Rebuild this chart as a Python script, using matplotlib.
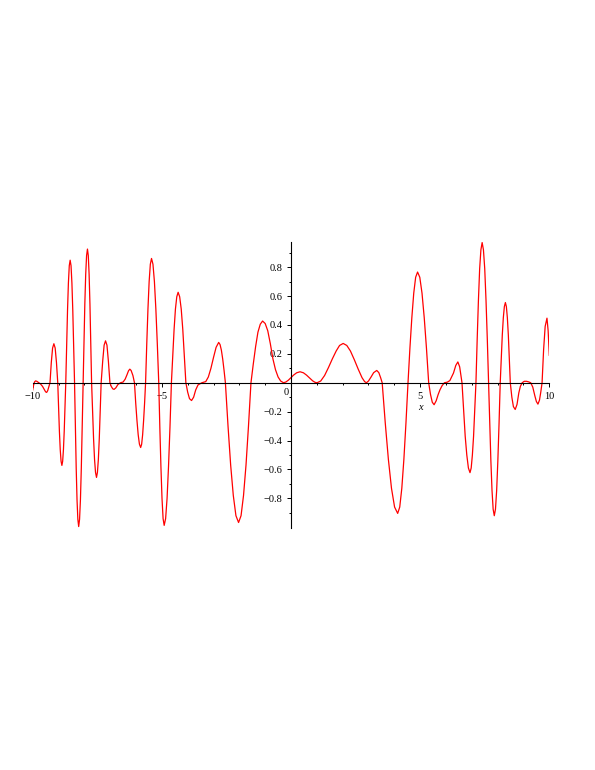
import matplotlib
matplotlib.use("Agg")
import matplotlib.pyplot as plt
from matplotlib.ticker import FixedLocator, NullFormatter

# ---- data ----
x_vals = [
    -10.00, -9.97, -9.93, -9.89, -9.84, -9.78, -9.70, -9.62, -9.55, -9.50, -9.46, -9.42, -9.38, -9.33,
    -9.28, -9.23, -9.18, -9.13, -9.08, -9.03,
    -8.998, -8.966, -8.934, -8.902, -8.87, -8.84, -8.81, -8.78, -8.75, -8.72,
    -8.686, -8.652, -8.618, -8.584, -8.55, -8.516, -8.482, -8.448, -8.414, -8.38,
    -8.348, -8.316, -8.284, -8.252, -8.22, -8.186, -8.152, -8.118, -8.084, -8.05,
    -8.016, -7.982, -7.948, -7.914, -7.88, -7.848, -7.816, -7.784, -7.752, -7.72,
    -7.682, -7.644, -7.606, -7.568, -7.53, -7.494, -7.458, -7.422, -7.386, -7.35,
    -7.29, -7.235, -7.18, -7.125, -7.07, -7.01,
    -6.96, -6.90, -6.85, -6.78, -6.70, -6.60, -6.50, -6.42, -6.35, -6.29, -6.24, -6.19, -6.12, -6.06,
    -6.012, -5.964, -5.916, -5.868, -5.82, -5.782, -5.744, -5.706, -5.668, -5.63,
    -5.584, -5.538, -5.492, -5.446, -5.40, -5.344, -5.288, -5.232, -5.176, -5.12,
    -5.078, -5.036, -4.994, -4.952, -4.91, -4.854, -4.798, -4.742, -4.686, -4.63,
    -4.578, -4.526, -4.474, -4.422, -4.37, -4.31, -4.25, -4.19, -4.13, -4.07,
    -4.00, -3.93, -3.85, -3.77, -3.69, -3.60, -3.45, -3.30,
    -3.20, -3.10, -3.00, -2.90, -2.80, -2.748, -2.696, -2.644, -2.592, -2.54,
    -2.438, -2.336, -2.234, -2.132, -2.03, -1.934, -1.838, -1.742, -1.646, -1.55,
    -1.46, -1.37, -1.28, -1.19, -1.10, -1.00, -0.90, -0.80, -0.70, -0.60, -0.50, -0.40, -0.29,
    -0.20, -0.10, 0.00, 0.10, 0.22, 0.35, 0.48, 0.60, 0.72, 0.84, 0.93, 1.01,
    1.15, 1.30, 1.45, 1.60, 1.75, 1.88, 2.02, 2.16, 2.30, 2.45, 2.60, 2.75, 2.85, 2.92,
    3.00, 3.10, 3.20, 3.32, 3.40, 3.47, 3.53,
    3.65, 3.77, 3.89, 4.01, 4.13, 4.21, 4.29, 4.37, 4.45, 4.53,
    4.604, 4.678, 4.752, 4.826, 4.90, 4.986, 5.072, 5.158, 5.244, 5.33,
    5.40, 5.47, 5.54, 5.62, 5.70, 5.77, 5.85, 5.94, 6.05, 6.15, 6.29, 6.38, 6.46, 6.53, 6.62,
    6.682, 6.744, 6.806, 6.868, 6.93, 6.976, 7.022, 7.068, 7.114, 7.16,
    7.208, 7.256, 7.304, 7.352, 7.40, 7.45, 7.50, 7.55, 7.60, 7.65,
    7.694, 7.738, 7.782, 7.826, 7.87, 7.916, 7.962, 8.008, 8.054, 8.10,
    8.14, 8.18, 8.22, 8.26, 8.30, 8.338, 8.376, 8.414, 8.452, 8.49,
    8.55, 8.61, 8.68, 8.75, 8.82, 8.88, 8.95, 9.03, 9.12, 9.20, 9.28, 9.36, 9.44, 9.50, 9.56, 9.62, 9.67, 9.72,
    9.78, 9.84, 9.91, 9.955, 10.00,
]
y_vals = [
    -0.050, -0.020, 0.005, 0.013, 0.010, 0.002, -0.008, -0.025, -0.048, -0.063, -0.067, -0.055, -0.030, 0.000,
    0.140, 0.240, 0.270, 0.240, 0.140, 0.000,
    -0.177, -0.337, -0.463, -0.543, -0.572, -0.543, -0.463, -0.337, -0.177, 0.000,
    0.260, 0.500, 0.690, 0.810, 0.848, 0.810, 0.690, 0.500, 0.260, 0.000,
    -0.310, -0.590, -0.810, -0.945, -0.995, -0.945, -0.810, -0.590, -0.310, 0.000,
    0.285, 0.545, 0.750, 0.880, 0.925, 0.880, 0.750, 0.545, 0.285, 0.000,
    -0.200, -0.385, -0.530, -0.620, -0.655, -0.620, -0.530, -0.385, -0.200, 0.000,
    0.150, 0.260, 0.290, 0.260, 0.150, 0.000,
    -0.025, -0.042, -0.046, -0.035, -0.012, 0.000, 0.005, 0.025, 0.055, 0.083, 0.094, 0.085, 0.050, 0.000,
    -0.140, -0.260, -0.360, -0.425, -0.448, -0.425, -0.360, -0.260, -0.140, 0.000,
    0.270, 0.510, 0.700, 0.820, 0.860, 0.820, 0.700, 0.510, 0.270, 0.000,
    -0.310, -0.580, -0.800, -0.940, -0.987, -0.940, -0.800, -0.580, -0.310, 0.000,
    0.190, 0.370, 0.510, 0.595, 0.626, 0.595, 0.510, 0.370, 0.190, 0.000,
    -0.065, -0.110, -0.123, -0.100, -0.050, -0.015, 0.000, 0.008,
    0.040, 0.100, 0.175, 0.245, 0.279, 0.265, 0.226, 0.164, 0.086, 0.000,
    -0.300, -0.570, -0.780, -0.920, -0.967, -0.920, -0.780, -0.570, -0.300, 0.000,
    0.130, 0.250, 0.350, 0.405, 0.427, 0.410, 0.360, 0.270, 0.165, 0.090, 0.040, 0.012, 0.000,
    0.005, 0.018, 0.035, 0.053, 0.069, 0.076, 0.069, 0.053, 0.033, 0.013, 0.003, 0.000,
    0.012, 0.050, 0.105, 0.165, 0.220, 0.258, 0.272, 0.258, 0.220, 0.160, 0.095, 0.035, 0.008, 0.000,
    0.012, 0.040, 0.070, 0.085, 0.070, 0.035, 0.000,
    -0.280, -0.530, -0.730, -0.860, -0.904, -0.860, -0.730, -0.530, -0.280, 0.000,
    0.240, 0.450, 0.620, 0.730, 0.766, 0.730, 0.620, 0.450, 0.240, 0.000,
    -0.080, -0.135, -0.152, -0.125, -0.080, -0.048, -0.020, 0.000, 0.004, 0.015, 0.067, 0.120, 0.144, 0.110, 0.000,
    -0.190, -0.370, -0.500, -0.590, -0.622, -0.590, -0.500, -0.370, -0.190, 0.000,
    0.300, 0.570, 0.790, 0.920, 0.970, 0.920, 0.790, 0.570, 0.300, 0.000,
    -0.285, -0.540, -0.745, -0.875, -0.920, -0.875, -0.745, -0.540, -0.285, 0.000,
    0.170, 0.330, 0.450, 0.527, 0.555, 0.527, 0.450, 0.330, 0.170, 0.000,
    -0.100, -0.165, -0.185, -0.150, -0.070, -0.025, 0.000, 0.010, 0.010, 0.006, 0.000, -0.030, -0.090, -0.130, -0.148, -0.120, -0.065, 0.000,
    0.230, 0.390, 0.447, 0.360, 0.190,
]

x_major = [-10, -5, 5, 10]
x_major_labels = ["\u221210", "\u22125", "5", "10"]
x_minor = [-9, -8, -7, -6, -4, -3, -2, -1, 1, 2, 3, 4, 6, 7, 8, 9]
y_major = [-0.8, -0.6, -0.4, -0.2, 0.2, 0.4, 0.6, 0.8]
y_major_labels = ["\u22120.8", "\u22120.6", "\u22120.4", "\u22120.2", "0.2", "0.4", "0.6", "0.8"]
y_minor = [-0.9, -0.7, -0.5, -0.3, -0.1, 0.1, 0.3, 0.5, 0.7, 0.9]
x_label = "x"

# ---- figure ----
W, H = 595, 770
fig = plt.figure(figsize=(W / 100, H / 100), dpi=100)
left_px, right_px = 32.7, 549.3
top_px, bottom_px = 241.7, 527.7
ax = fig.add_axes([left_px / W, 1 - bottom_px / H,
                   (right_px - left_px) / W, (bottom_px - top_px) / H])

ax.plot(x_vals, y_vals, color="#ff0000", lw=0.9, solid_joinstyle="round")

ax.set_xlim(-10, 10)
ax.set_ylim(-1.003, 0.976)

for s in ["top", "right"]:
    ax.spines[s].set_visible(False)
ax.spines["left"].set_position(("data", 0))
ax.spines["bottom"].set_position(("data", 0))
for s in ["left", "bottom"]:
    ax.spines[s].set_linewidth(0.8)
    ax.spines[s].set_color("black")

font = dict(family="Liberation Serif", size=7.5)

ax.xaxis.set_major_locator(FixedLocator(x_major))
ax.set_xticklabels(x_major_labels, **font)
ax.xaxis.set_minor_locator(FixedLocator(x_minor))
ax.yaxis.set_major_locator(FixedLocator(y_major))
ax.set_yticklabels(y_major_labels, **font)
ax.yaxis.set_minor_locator(FixedLocator(y_minor))
ax.yaxis.set_minor_formatter(NullFormatter())
ax.xaxis.set_minor_formatter(NullFormatter())

ax.tick_params(axis="x", which="major", direction="out", length=3, width=0.7, pad=3.5)
ax.tick_params(axis="x", which="minor", direction="out", length=1.5, width=0.7)
ax.tick_params(axis="y", which="major", direction="out", length=3, width=0.7, pad=3)
ax.tick_params(axis="y", which="minor", direction="out", length=1.5, width=0.7)

ax.text(-0.2, -0.065, "0", ha="center", va="center", **font)
ax.text(5.0, -0.17, x_label, ha="center", va="center",
        family="Liberation Serif", size=7.5, style="italic")

ax.patch.set_visible(False)
fig.savefig("out.png", dpi=100, facecolor="white")
